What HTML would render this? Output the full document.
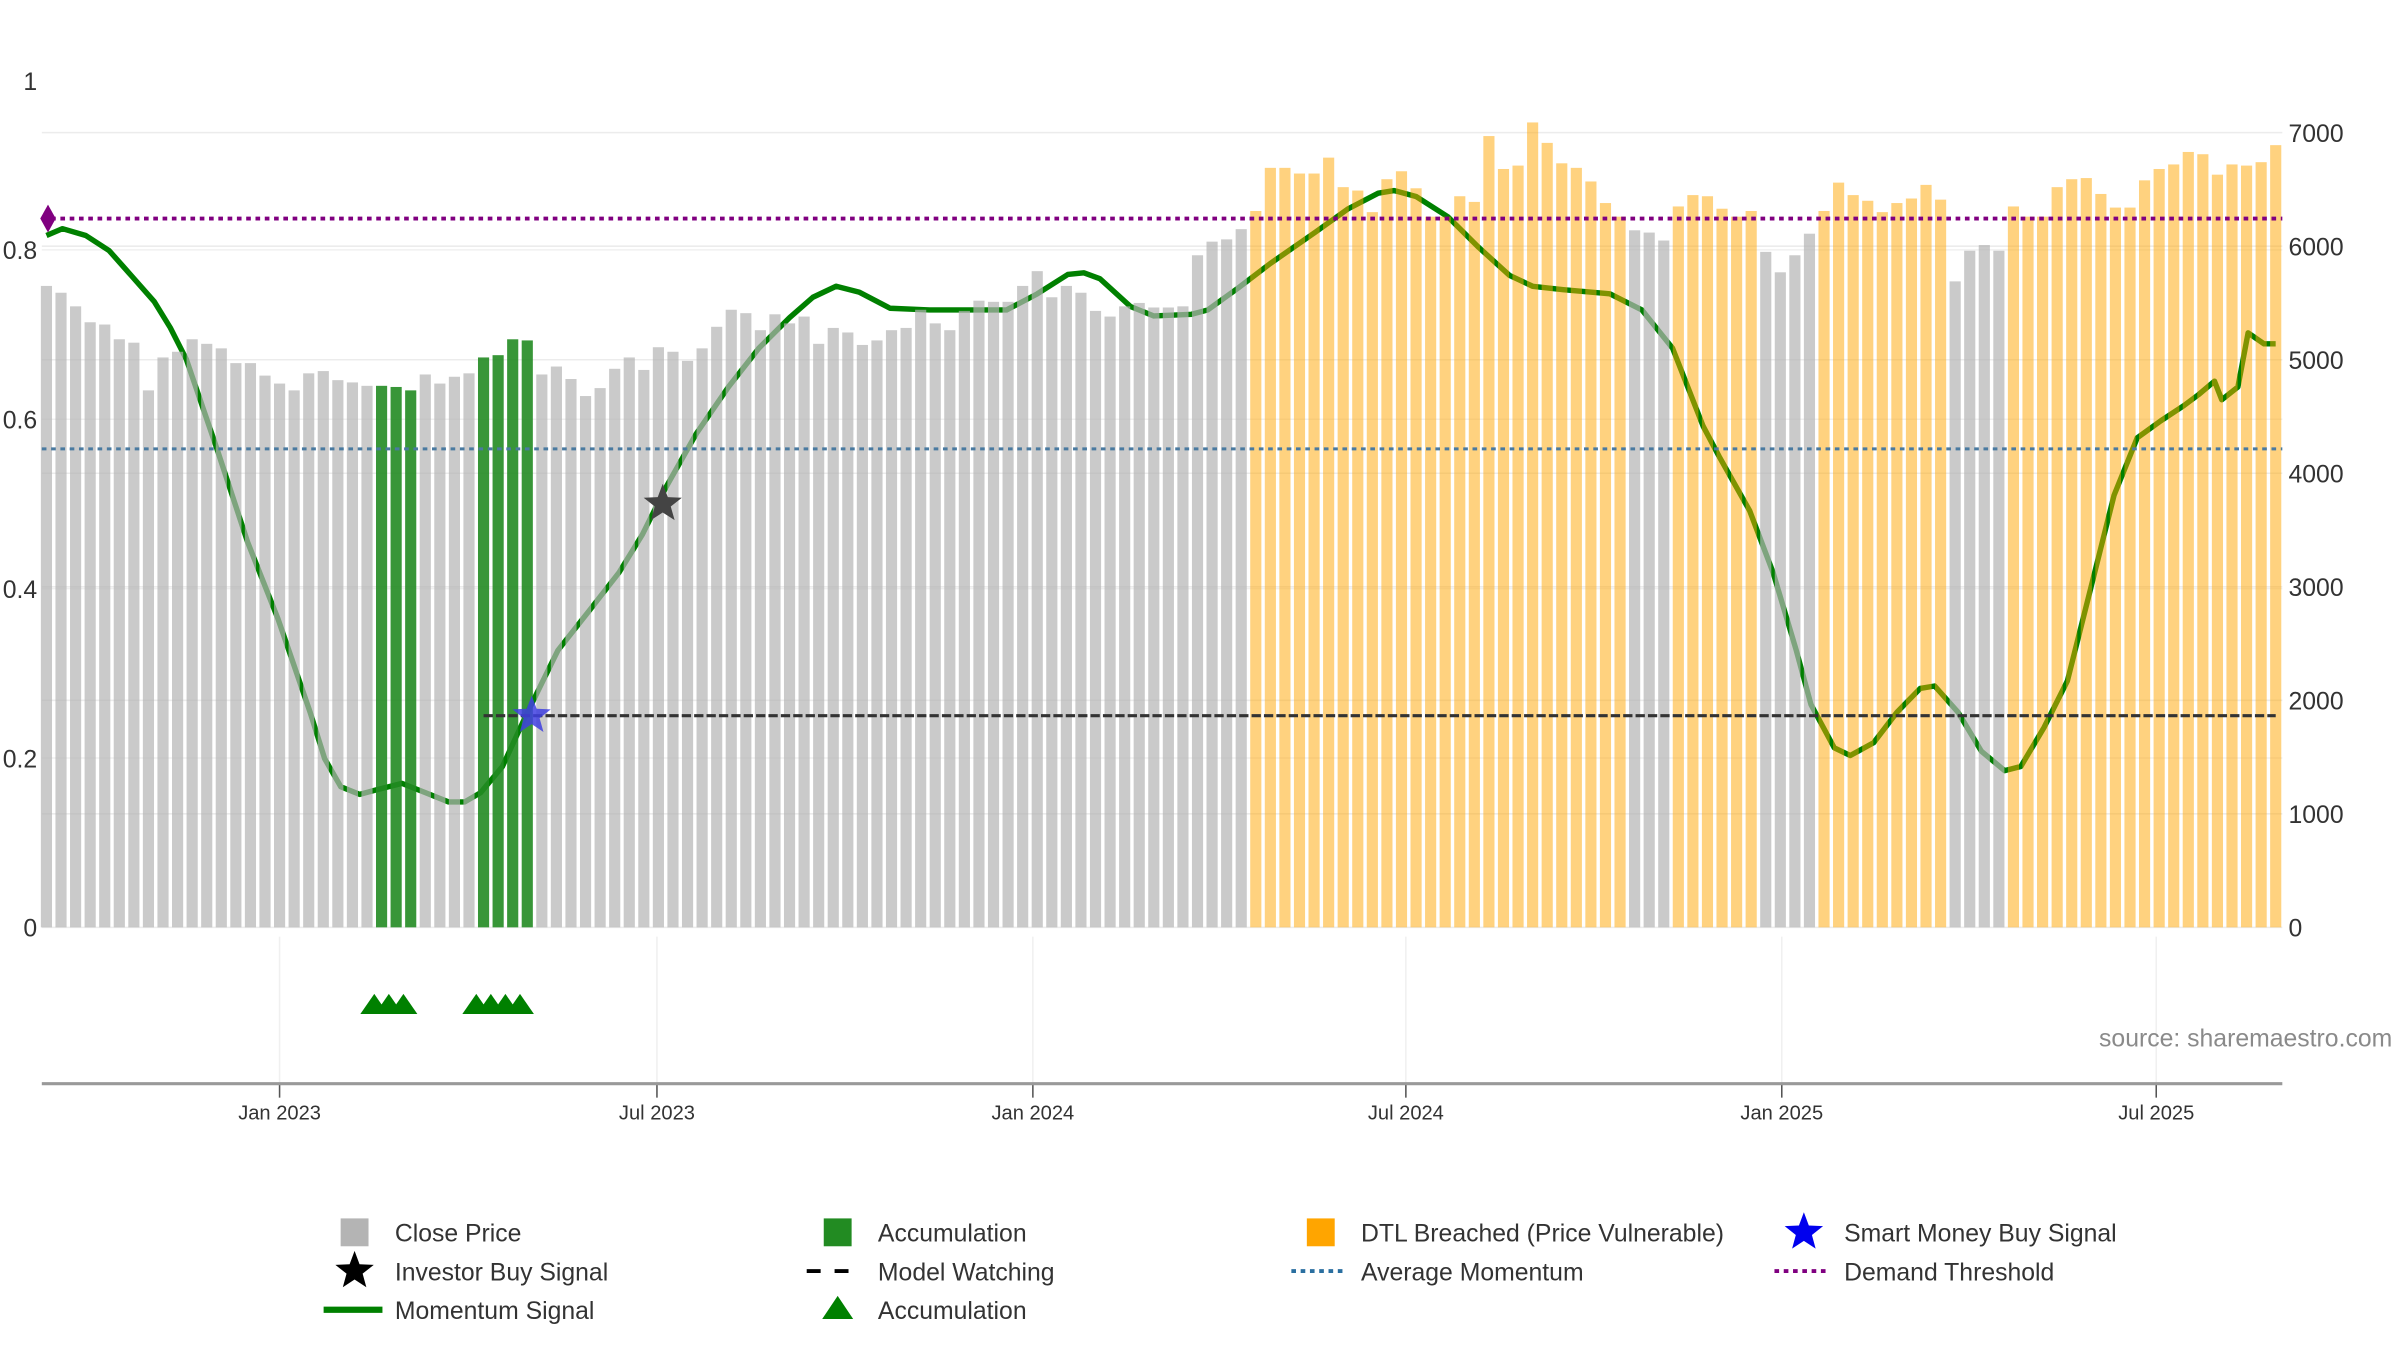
<!DOCTYPE html>
<html><head><meta charset="utf-8"><style>
html,body{margin:0;padding:0;background:#fff;}
svg{display:block;font-family:"Liberation Sans","DejaVu Sans",sans-serif;}
</style></head><body>
<svg id="chart" width="2400" height="1350" viewBox="0 0 1550 872" preserveAspectRatio="none" xmlns="http://www.w3.org/2000/svg">
<g id="grid"></g>
<g id="lineG"></g>
<g id="barsG"></g>
<g id="refG"></g>
<g id="axes"></g>
<g id="lower"></g>
<text x="1545" y="676" text-anchor="end" font-size="16" fill="#8a8a8a">source: sharemaestro.com</text>
<g id="legend"></g>
</svg>
<script>
const prices=[5650,5590,5470,5330,5310,5180,5150,4730,5020,5070,5180,5140,5100,4970,4970,4860,4790,4730,4880,4900,4820,4800,4770,4770,4760,4730,4870,4790,4850,4880,5020,5040,5180,5170,4870,4940,4830,4680,4750,4920,5020,4910,5110,5070,4990,5100,5290,5440,5410,5260,5400,5320,5380,5140,5280,5240,5130,5170,5260,5280,5440,5320,5260,5430,5520,5510,5510,5650,5780,5550,5650,5590,5430,5380,5470,5500,5460,5460,5470,5920,6040,6060,6150,6310,6690,6690,6640,6640,6780,6520,6490,6300,6590,6660,6510,6260,6260,6440,6390,6970,6680,6710,7090,6910,6730,6690,6570,6380,6260,6140,6120,6050,6350,6450,6440,6330,6260,6310,5950,5770,5920,6110,6310,6560,6450,6400,6300,6380,6420,6540,6410,5690,5960,6010,5960,6350,6260,6260,6520,6590,6600,6460,6340,6340,6580,6680,6720,6830,6810,6630,6720,6710,6740,6890];
const stateRuns=[['G',23],['A',3],['G',4],['A',4],['G',49],['O',26],['G',3],['O',6],['G',4],['O',9],['G',4],['O',19]];
const momIdx=[0,1.1,2.7,4.3,5.8,7.4,8.5,9.6,11.7,13.8,15.9,18.1,19.1,20.2,21.5,22.8,24.4,26,27.6,28.7,29.8,31.3,32.9,35.1,37.2,39.3,40.9,42.5,44.6,46.8,48.9,51,52.6,54.2,55.8,57.9,60.6,63.8,65.9,68,70.1,71.2,72.3,74.4,76,78.6,79.7,81.8,84,87.1,89.3,91.4,92.5,94,96.2,98.3,100.4,102,104.1,107.3,109.5,111.6,113.7,114.8,116.9,118.5,120.1,121.1,122.7,123.8,125.4,127,128.6,129.6,131.2,132.8,134.4,135.5,137.1,138.7,140.3,141.9,143.5,145.1,146.7,147.7,148.8,149.3,150.4,151.1,152.2,153];
const momVal=[0.817,0.825,0.817,0.799,0.770,0.739,0.708,0.671,0.565,0.455,0.364,0.254,0.199,0.166,0.157,0.163,0.170,0.159,0.148,0.148,0.159,0.190,0.250,0.327,0.373,0.419,0.464,0.519,0.583,0.638,0.684,0.720,0.744,0.757,0.750,0.731,0.729,0.729,0.729,0.748,0.771,0.773,0.766,0.733,0.722,0.724,0.729,0.755,0.784,0.821,0.848,0.867,0.870,0.863,0.839,0.803,0.770,0.757,0.753,0.748,0.729,0.684,0.592,0.556,0.492,0.419,0.327,0.263,0.212,0.203,0.218,0.254,0.282,0.285,0.254,0.208,0.185,0.190,0.236,0.291,0.400,0.510,0.578,0.598,0.616,0.629,0.645,0.623,0.638,0.702,0.689,0.689];
const demandThreshold=0.837, avgMomentum=0.565, modelWatching=0.25, modelWatchStart=30;
const investorBuy=[[42.3,0.5]];
const smartMoneyBuy=[[33.3,0.25]];
const accumTriangles=[22.5,23.5,24.5,29.5,30.5,31.5,32.5];
const leftTicks=[0,0.2,0.4,0.6,0.8,1];
const leftTickLabels=["0","0.2","0.4","0.6","0.8","1"];
const rightTicks=[0,1000,2000,3000,4000,5000,6000,7000];
const dateTickIdx=[16,41.9,67.7,93.3,119.1,144.8];
const dateTickLabels=["Jan 2023","Jul 2023","Jan 2024","Jul 2024","Jan 2025","Jul 2025"];

const states=[];stateRuns.forEach(r=>{for(let k=0;k<r[1];k++)states.push(r[0]);});
const NS="http://www.w3.org/2000/svg";
const X=i=>30+i*9.41;
const YL=v=>599-547*v;
const YR=v=>599-v*0.07333;
function mk(p,tag,a){const e=document.createElementNS(NS,tag);for(const k in a)e.setAttribute(k,a[k]);p.appendChild(e);return e;}
const gid=id=>document.getElementById(id);
const left=27,right=1474;
rightTicks.forEach(t=>{const l=mk(gid('grid'),'line',{x1:left,x2:right,y1:YR(t),y2:YR(t),stroke:'#ececec','stroke-width':1});

});
leftTicks.slice(1,5).forEach(t=>{const l=mk(gid('grid'),'line',{x1:left,x2:right,y1:YL(t),y2:YL(t),stroke:'#f0f0f0','stroke-width':1});

});
let d=momIdx.map((ix,k)=>(k?'L':'M')+X(ix).toFixed(1)+','+YL(momVal[k]).toFixed(1)).join(' ');
const ml=mk(gid('lineG'),'path',{d:d,fill:'none',stroke:'#008000','stroke-width':3.5,'stroke-linejoin':'round'});


const col={G:['#b4b4b4',0.7],A:['#228b22',0.9],O:['#ffa500',0.5]};
prices.forEach((p,i)=>{const c=col[states[i]]||col.G;const y=YR(p);
const r=mk(gid('barsG'),'rect',{x:X(i)-3.6,y:y,width:7.2,height:599-y,fill:c[0],'fill-opacity':c[1]});

});
let r1=mk(gid('refG'),'line',{x1:left,x2:right,y1:YL(demandThreshold),y2:YL(demandThreshold),stroke:'#800080','stroke-width':2.5,'stroke-dasharray':'3,3'});


let dm=mk(gid('refG'),'path',{d:`M${X(0)-4},${YL(demandThreshold)} l5,-9 l5,9 l-5,9 z`,fill:'#800080'});


let r2=mk(gid('refG'),'line',{x1:left,x2:right,y1:YL(avgMomentum),y2:YL(avgMomentum),stroke:'#4a7aa0','stroke-width':2,'stroke-dasharray':'3,3'});


let r3=mk(gid('refG'),'line',{x1:X(modelWatchStart),x2:X(prices.length-1),y1:YL(modelWatching),y2:YL(modelWatching),stroke:'#333','stroke-width':2,'stroke-dasharray':'6,2'});


function star(cx,cy,R){let s='';for(let k=0;k<10;k++){const rr=k%2?R*0.42:R;const a=-Math.PI/2+k*Math.PI/5;s+=(k?'L':'M')+(cx+rr*Math.cos(a)).toFixed(1)+','+(cy+rr*Math.sin(a)).toFixed(1);}return s+'Z';}
investorBuy.forEach(p=>{const s=mk(gid('refG'),'path',{d:star(X(p[0]),YL(p[1]),13),fill:'#444'});

});
smartMoneyBuy.forEach(p=>{const s=mk(gid('refG'),'path',{d:star(X(p[0]),YL(p[1]),13),fill:'#4040e0','fill-opacity':0.85});

});
leftTicks.forEach((t,k)=>{const tx=mk(gid('axes'),'text',{x:24,y:YL(t)+6,'text-anchor':'end','font-size':16,fill:'#333'});tx.textContent=leftTickLabels[k];

});
rightTicks.forEach(t=>{const tx=mk(gid('axes'),'text',{x:1478,y:YR(t)+6,'font-size':16,fill:'#333'});tx.textContent=t;

});
dateTickIdx.forEach((ix,k)=>{const x=X(ix);
const vl=mk(gid('lower'),'line',{x1:x,x2:x,y1:605,y2:700,stroke:'#f0f0f0'});


const tk=mk(gid('lower'),'line',{x1:x,x2:x,y1:700,y2:709,stroke:'#555'});


const tx=mk(gid('lower'),'text',{x:x,y:723,'text-anchor':'middle','font-size':13,fill:'#333'});tx.textContent=dateTickLabels[k];

});
const ax=mk(gid('lower'),'line',{x1:left,x2:right,y1:700,y2:700,stroke:'#999','stroke-width':2});


accumTriangles.forEach(ix=>{const x=X(ix);const t=mk(gid('lower'),'path',{d:`M${x-9},655 L${x},642 L${x+9},655 Z`,fill:'#008000'});

});
const L=gid('legend');
const cols=[229,541,853,1165];const rows=[796,821,846];
const items=[
['Close Price',0,0,'rect','#b4b4b4'],['Accumulation',1,0,'rect','#228b22'],['DTL Breached (Price Vulnerable)',2,0,'rect','#ffa500'],['Smart Money Buy Signal',3,0,'star','#0000ee'],
['Investor Buy Signal',0,1,'star','#000'],['Model Watching',1,1,'dash','#000'],['Average Momentum',2,1,'dot','#2a6fa0'],['Demand Threshold',3,1,'dot','#800080'],
['Momentum Signal',0,2,'line','#008000'],['Accumulation',1,2,'tri','#008000']];
items.forEach(it=>{const cx=cols[it[1]],cy=rows[it[2]];
const grp=mk(L,'g',{});


if(it[3]=='rect')mk(grp,'rect',{x:cx-9,y:cy-9,width:18,height:18,fill:it[4]});
if(it[3]=='star')mk(grp,'path',{d:star(cx,cy,13),fill:it[4]});
if(it[3]=='dash')mk(grp,'line',{x1:cx-20,x2:cx+16,y1:cy,y2:cy,stroke:it[4],'stroke-width':2.5,'stroke-dasharray':'9,9'});
if(it[3]=='dot')mk(grp,'line',{x1:cx-19,x2:cx+17,y1:cy,y2:cy,stroke:it[4],'stroke-width':2.5,'stroke-dasharray':'3,3'});
if(it[3]=='line')mk(grp,'line',{x1:cx-20,x2:cx+18,y1:cy,y2:cy,stroke:it[4],'stroke-width':4});
if(it[3]=='tri')mk(grp,'path',{d:`M${cx-10},${cy+6} L${cx},${cy-9} L${cx+10},${cy+6} Z`,fill:it[4]});
const tx=mk(grp,'text',{x:cx+26,y:cy+6,'font-size':16,fill:'#333'});tx.textContent=it[0];});
</script>
</body></html>
